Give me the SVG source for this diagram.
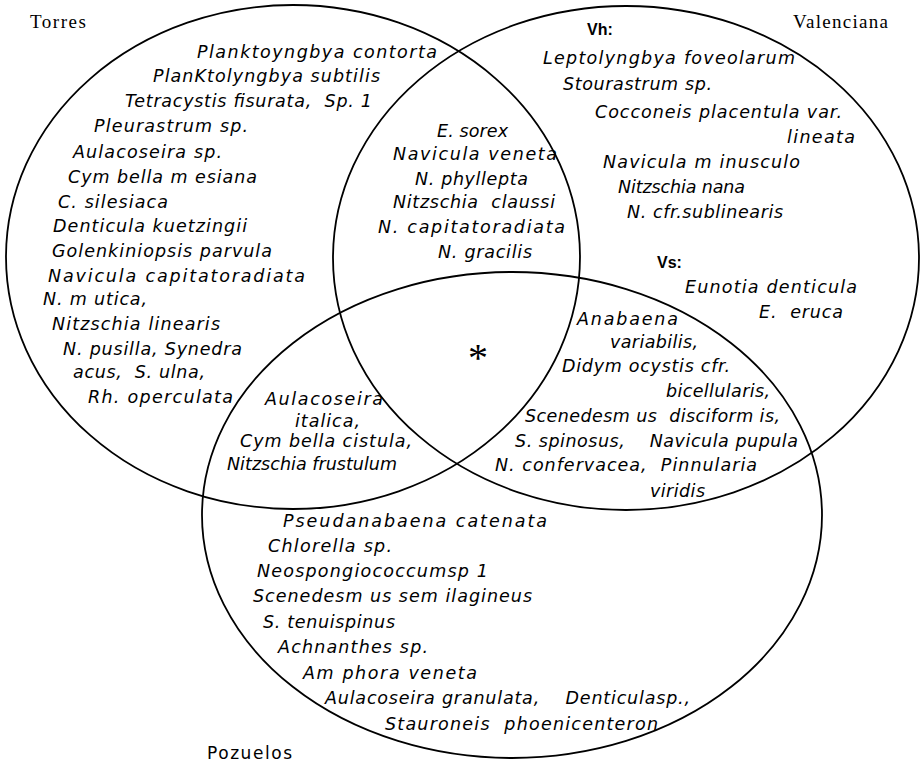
<svg xmlns="http://www.w3.org/2000/svg" width="921" height="765" viewBox="0 0 921 765">
<style>
.ring{fill:none;stroke:#000;stroke-width:1.8}
.sp{font-family:"DejaVu Sans","Liberation Sans",sans-serif;font-style:italic;font-size:17.5px;fill:#000}
.lbl{font-family:"Liberation Serif",serif;font-size:19px;fill:#000}
.hd{font-family:"Liberation Sans","DejaVu Sans",sans-serif;font-weight:bold;font-size:16px;fill:#000}
.up{font-family:"DejaVu Sans","Liberation Sans",sans-serif;font-size:17px;fill:#000}
.pre{white-space:pre}
</style>
<rect width="921" height="765" fill="#fff"/>
<g id="torres">
<ellipse class="ring" cx="293" cy="257" rx="287" ry="252"/>
<text class="lbl" x="30" y="28" textLength="56">Torres</text>
<g class="sp">
<text x="197" y="58" textLength="240">Planktoyngbya contorta</text>
<text x="153" y="82" textLength="227">PlanKtolyngbya subtilis</text>
<text class="pre" x="125" y="107" textLength="247">Tetracystis fisurata,  Sp. 1</text>
<text x="94" y="132" textLength="154">Pleurastrum sp.</text>
<text x="73" y="158" textLength="149">Aulacoseira sp.</text>
<text x="68" y="183" textLength="189">Cym bella m esiana</text>
<text x="58" y="208" textLength="110">C. silesiaca</text>
<text x="53" y="232" textLength="194">Denticula kuetzingii</text>
<text x="52" y="257" textLength="220">Golenkiniopsis parvula</text>
<text x="48" y="282" textLength="257">Navicula capitatoradiata</text>
<text x="43" y="305" textLength="104">N. m utica,</text>
<text x="52" y="330" textLength="168">Nitzschia linearis</text>
<text x="63" y="355" textLength="179">N. pusilla, Synedra</text>
<text class="pre" x="73" y="378" textLength="132">acus,  S. ulna,</text>
<text x="88" y="403" textLength="145">Rh. operculata</text>
</g>
</g>
<g id="valenciana">
<ellipse class="ring" cx="626" cy="258" rx="293" ry="252"/>
<text class="lbl" x="793" y="28" textLength="95">Valenciana</text>
<text class="hd" x="587" y="35">Vh:</text>
<g class="sp">
<text x="543" y="64" textLength="252">Leptolyngbya foveolarum</text>
<text x="563" y="90" textLength="149">Stourastrum sp.</text>
<text x="595" y="118" textLength="247">Cocconeis placentula var.</text>
<text x="787" y="143" textLength="68">lineata</text>
<text x="603" y="168" textLength="197">Navicula m inusculo</text>
<text x="618" y="193" textLength="127">Nitzschia nana</text>
<text x="627" y="218" textLength="156">N. cfr.sublinearis</text>
</g>
<text class="hd" x="657" y="268">Vs:</text>
<g class="sp">
<text x="685" y="293" textLength="172">Eunotia denticula</text>
<text class="pre" x="759" y="318" textLength="84">E.  eruca</text>
</g>
</g>
<g id="pozuelos">
<ellipse class="ring" cx="512" cy="515" rx="310" ry="243"/>
<text class="up" x="207" y="759" textLength="85">Pozuelos</text>
<g class="sp">
<text x="283" y="527" textLength="264">Pseudanabaena catenata</text>
<text x="268" y="552" textLength="124">Chlorella sp.</text>
<text x="257" y="577" textLength="231">Neospongiococcumsp 1</text>
<text x="253" y="602" textLength="279">Scenedesm us sem ilagineus</text>
<text x="263" y="628" textLength="132">S. tenuispinus</text>
<text x="278" y="653" textLength="150">Achnanthes sp.</text>
<text x="303" y="679" textLength="174">Am phora veneta</text>
<text class="pre" x="325" y="704" textLength="365">Aulacoseira granulata,    Denticulasp.,</text>
<text class="pre" x="385" y="730" textLength="273">Stauroneis  phoenicenteron</text>
</g>
</g>
<g id="torres-valenciana" class="sp">
<text x="437" y="137" textLength="71">E. sorex</text>
<text x="393" y="160" textLength="164">Navicula veneta</text>
<text x="415" y="185" textLength="113">N. phyllepta</text>
<text class="pre" x="393" y="208" textLength="162">Nitzschia  claussi</text>
<text x="378" y="233" textLength="187">N. capitatoradiata</text>
<text x="438" y="258" textLength="94">N. gracilis</text>
</g>
<g id="all-three">
<text x="478" y="371" text-anchor="middle" font-family="Liberation Serif, serif" font-size="40" fill="#000">*</text>
</g>
<g id="valenciana-pozuelos" class="sp">
<text x="577" y="325" textLength="101">Anabaena</text>
<text x="610" y="348" textLength="88">variabilis,</text>
<text x="562" y="372" textLength="168">Didym ocystis cfr.</text>
<text x="666" y="397" textLength="104">bicellularis,</text>
<text class="pre" x="525" y="422" textLength="255">Scenedesm us  disciform is,</text>
<text class="pre" x="515" y="447" textLength="283">S. spinosus,    Navicula pupula</text>
<text class="pre" x="495" y="471" textLength="262">N. confervacea,  Pinnularia</text>
<text x="650" y="497" textLength="55">viridis</text>
</g>
<g id="torres-pozuelos" class="sp">
<text x="265" y="405" textLength="118">Aulacoseira</text>
<text x="295" y="427" textLength="65">italica,</text>
<text x="240" y="447" textLength="172">Cym bella cistula,</text>
<text x="227" y="470" textLength="170">Nitzschia frustulum</text>
</g>
<g id="connectors"/>
</svg>
